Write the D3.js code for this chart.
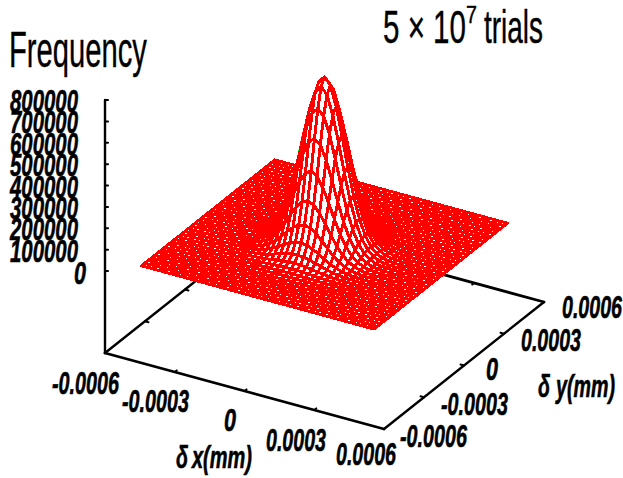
<!DOCTYPE html>
<html>
<head>
<meta charset="utf-8">
<script src="https://cdn.jsdelivr.net/npm/d3@7"></script>
<style>
  body { margin: 0; background: #fff; }
  svg { display: block; }
  text { font-family: "Liberation Sans", sans-serif; fill: #000; stroke: #000; }
</style>
</head>
<body>
<div id="chart"></div>
<script>
const xTicks = [-0.0006, -0.0003, 0, 0.0003, 0.0006];
const yTicks = [-0.0006, -0.0003, 0, 0.0003, 0.0006];
const zTicks = [0, 100000, 200000, 300000, 400000, 500000, 600000, 700000, 800000];
const xLabels = ["-0.0006", "-0.0003", "0", "0.0003", "0.0006"];
const yLabels = ["-0.0006", "-0.0003", "0", "0.0003", "0.0006"];

// mesh nodes run from -0.0005 to 0.0005, 41 per side
const meshCount = 41;
const meshMin = -0.0005;
const meshStep = 0.000025;
// first mesh node of the peak table; everything outside it reads as flat
const peakStart = 8;
// frequency in thousands around the peak
const peakRows = [
  [0,0,0,0,0,0,1,1,1,1,2,2,2,2,2,1,1,1,1,0,0,0,0,0,0],
  [0,0,0,0,0,1,1,1,2,2,3,4,4,4,3,2,2,1,1,1,0,0,0,0,0],
  [0,0,0,0,1,1,2,3,5,7,9,10,10,10,9,7,5,3,2,1,1,0,0,0,0],
  [0,0,0,1,2,3,5,8,12,16,20,23,24,23,20,16,12,8,5,3,2,1,0,0,0],
  [0,0,1,2,3,6,10,17,25,33,41,47,49,47,41,33,25,17,10,6,3,2,1,0,0],
  [0,1,1,3,6,11,20,32,47,64,79,90,94,90,79,64,47,32,20,11,6,3,1,1,0],
  [0,1,2,5,10,20,35,56,83,112,139,158,165,158,139,112,83,56,35,20,10,5,2,1,0],
  [1,2,3,8,17,32,56,90,133,180,223,254,266,254,223,180,133,90,56,32,17,8,3,2,1],
  [1,2,5,12,25,47,83,133,197,266,330,376,393,376,330,266,197,133,83,47,25,12,5,2,1],
  [1,3,7,16,33,64,112,180,266,360,448,510,532,510,448,360,266,180,112,64,33,16,7,3,1],
  [1,3,9,20,41,79,139,223,330,448,555,632,660,632,555,448,330,223,139,79,41,20,9,3,1],
  [2,4,10,23,47,90,158,254,376,510,632,720,752,720,632,510,376,254,158,90,47,23,10,4,2],
  [2,4,10,24,49,94,165,266,393,532,660,752,785,752,660,532,393,266,165,94,49,24,10,4,2],
  [2,4,10,23,47,90,158,254,376,510,632,720,752,720,632,510,376,254,158,90,47,23,10,4,2],
  [1,3,9,20,41,79,139,223,330,448,555,632,660,632,555,448,330,223,139,79,41,20,9,3,1],
  [1,3,7,16,33,64,112,180,266,360,448,510,532,510,448,360,266,180,112,64,33,16,7,3,1],
  [1,2,5,12,25,47,83,133,197,266,330,376,393,376,330,266,197,133,83,47,25,12,5,2,1],
  [1,2,3,8,17,32,56,90,133,180,223,254,266,254,223,180,133,90,56,32,17,8,3,2,1],
  [0,1,2,5,10,20,35,56,83,112,139,158,165,158,139,112,83,56,35,20,10,5,2,1,0],
  [0,1,1,3,6,11,20,32,47,64,79,90,94,90,79,64,47,32,20,11,6,3,1,1,0],
  [0,0,1,2,3,6,10,17,25,33,41,47,49,47,41,33,25,17,10,6,3,2,1,0,0],
  [0,0,0,1,2,3,5,8,12,16,20,23,24,23,20,16,12,8,5,3,2,1,0,0,0],
  [0,0,0,0,1,1,2,3,5,7,9,10,10,10,9,7,5,3,2,1,1,0,0,0,0],
  [0,0,0,0,0,1,1,1,2,2,3,4,4,4,3,2,2,1,1,1,0,0,0,0,0],
  [0,0,0,0,0,0,1,1,1,1,2,2,2,2,2,1,1,1,1,0,0,0,0,0,0]
];

const width = 623;
const height = 478;

const svg = d3.select("#chart").append("svg")
    .attr("width", width)
    .attr("height", height);

// oblique projection: each data axis moves the point along its own screen vector
const xToPx = d3.scaleLinear().domain([-0.0006, 0.0006]).range([0, 279]);
const xToPy = d3.scaleLinear().domain([-0.0006, 0.0006]).range([0, 76]);
const yToPx = d3.scaleLinear().domain([-0.0006, 0.0006]).range([0, 160]);
const yToPy = d3.scaleLinear().domain([-0.0006, 0.0006]).range([0, -127]);
const zLift = d3.scaleLinear().domain([0, 800000]).range([82, 253]);
const originX = 105, originY = 353;

const project = (x, y, lift) => [
    originX + xToPx(x) + yToPx(y),
    originY + xToPy(x) + yToPy(y) - lift
];

const xMin = -0.0006, xMax = 0.0006, yMin = -0.0006, yMax = 0.0006;

function segment(g, a, b, w) {
    g.append("line")
        .attr("x1", a[0]).attr("y1", a[1])
        .attr("x2", b[0]).attr("y2", b[1])
        .attr("stroke", "#000")
        .attr("stroke-width", w)
        .attr("stroke-linecap", "round");
}

// base frame, then the z axis
const frame = svg.append("g").attr("class", "frame");
segment(frame, project(xMin, yMin, 0), project(xMax, yMin, 0), 2.8);
segment(frame, project(xMax, yMin, 0), project(xMax, yMax, 0), 2.4);
segment(frame, project(xMax, yMax, 0), project(xMin, yMax, 0), 2.8);
segment(frame, project(xMin, yMax, 0), project(xMin, yMin, 0), 2.4);
segment(frame, [originX, originY], [originX, originY - zLift(800000)], 2.4);

xTicks.slice(1, -1).forEach(t => {
    segment(frame, project(t, yMin, 0), project(t, yMin + 0.000015, 0), 2);
    segment(frame, project(t, yMax, 0), project(t, yMax - 0.000015, 0), 2);
});
yTicks.slice(1, -1).forEach(t => {
    segment(frame, project(xMin, t, 0), project(xMin + 0.000015, t, 0), 2);
    segment(frame, project(xMax, t, 0), project(xMax - 0.000015, t, 0), 2);
});
zTicks.forEach(t => {
    const py = originY - zLift(t);
    segment(frame, [originX, py], [originX + 3, py], 2);
});

// mesh, painted far to near with white faces so it hides itself
const surfaceShift = 1;
const meshValues = d3.range(meshCount).map(i => meshMin + i * meshStep);
const frequency = (i, j) => {
    const row = peakRows[i - peakStart];
    const v = row ? row[j - peakStart] : 0;
    return (v === undefined ? 0 : v) * 1000;
};
const node = (i, j) => project(meshValues[i], meshValues[j], zLift(frequency(i, j)) + surfaceShift);

const quads = [];
d3.range(meshCount - 1).forEach(i => {
    d3.range(meshCount - 1).forEach(j => {
        const pts = [node(i, j), node(i + 1, j), node(i + 1, j + 1), node(i, j + 1)];
        quads.push({ i, j, pts, area: d3.polygonArea(pts) });
    });
});
quads.sort((a, b) => (a.i - a.j) - (b.i - b.j));

const line = d3.line().curve(d3.curveLinearClosed);
svg.append("g").attr("class", "surface")
    .selectAll("path")
    .data(quads)
    .join("path")
    .attr("d", d => line(d.pts))
    .attr("fill", "#fff")
    .attr("stroke", d => d.area < 0 ? "#00ff00" : "#ff0000")
    .attr("stroke-width", 3)
    .attr("stroke-linejoin", "round")
    .attr("shape-rendering", "crispEdges");

// text squeezed sideways to the width it has in the picture
function squeezed(x, y, str, size, w, bold) {
    const t = svg.append("text")
        .attr("font-size", size)
        .attr("font-weight", bold ? "bold" : "normal")
        .attr("font-style", bold ? "italic" : "normal")
        .attr("stroke-width", bold ? 0.6 : 0.4)
        .text(str);
    const len = t.node().getComputedTextLength();
    t.attr("transform", `translate(${x},${y}) scale(${w / len},1)`);
}
const tickLabel = (x, y, str, w) => squeezed(x, y, str, 32, w, true);
const labelWidth = s => s === "0" ? 12 : (s[0] === "-" ? 67 : 60);

zTicks.slice(1).forEach(t => {
    tickLabel(10, originY - zLift(t) + 12, String(t), 68);
});
tickLabel(74, 284, "0", 12);

const xLabelPos = [[52, 394], [122, 412], [224, 431], [266, 451], [336, 465]];
xLabels.forEach((s, i) => tickLabel(xLabelPos[i][0], xLabelPos[i][1], s, labelWidth(s)));
const yLabelPos = [[400, 447], [441, 415], [486, 380], [521, 351], [562, 318]];
yLabels.forEach((s, i) => tickLabel(yLabelPos[i][0], yLabelPos[i][1], s, labelWidth(s)));

// axis titles
squeezed(9, 67, "Frequency", 50, 138, false);
squeezed(383, 43, "5 × 10", 46, 83, false);
squeezed(466, 23, "7", 24, 11, false);
squeezed(484, 43, "trials", 46, 59, false);

tickLabel(176, 468, "δ", 12);
tickLabel(192, 468, "x(mm)", 60);
tickLabel(538, 397, "δ", 12);
tickLabel(556, 397, "y(mm)", 59);
</script>
</body>
</html>
